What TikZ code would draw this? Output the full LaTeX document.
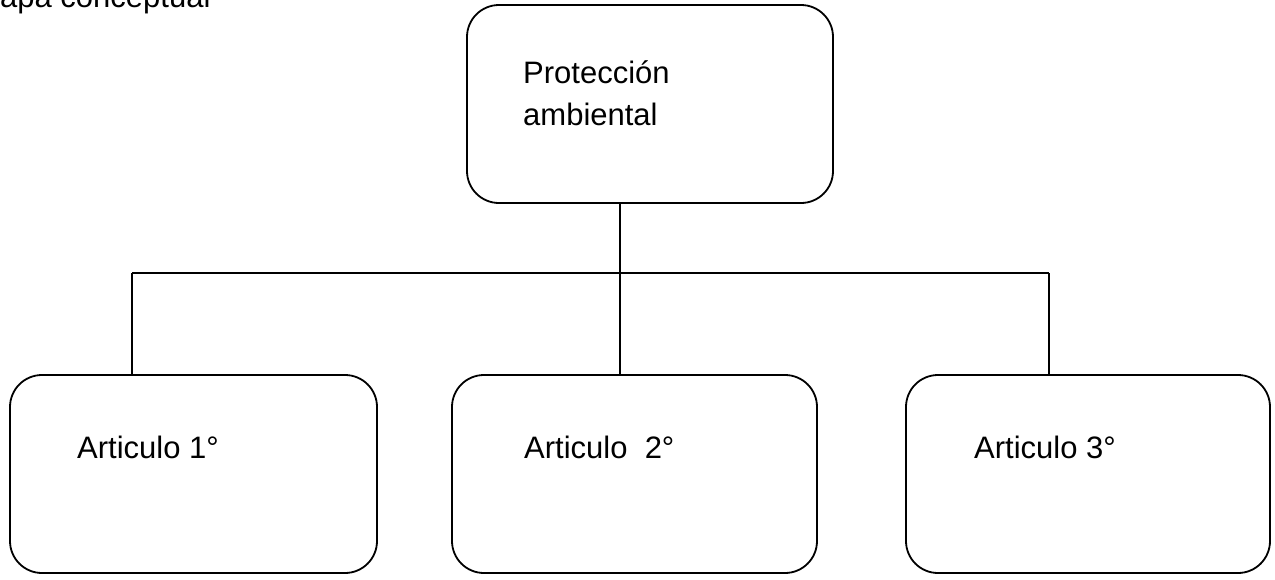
\documentclass[tikz,border=0pt]{standalone}
\usepackage{fontspec}
\setmainfont{Liberation Sans}
\begin{document}
\begin{tikzpicture}[x=1pt,y=-1pt,
  box/.style={draw=black, line width=1.8pt, rounded corners=32pt, inner sep=0pt},
  lbl/.style={inner sep=0pt, font=\fontsize{31}{42}\selectfont, align=left},
  link/.style={draw=black, line width=1.6pt}]
\useasboundingbox (0,0) rectangle (1275,579);
\node[lbl, anchor=base west] (title) at (0,7) {apa conceptual};
\node[box, minimum width=366pt, minimum height=198pt] (top) at (650,104) {};
\node[box, minimum width=367pt, minimum height=198pt] (b1) at (193.5,474) {};
\node[box, minimum width=365pt, minimum height=198pt] (b2) at (634.5,474) {};
\node[box, minimum width=364pt, minimum height=198pt] (b3) at (1088,474) {};
\node[lbl, anchor=base west] (t0) at (523,125) {Protección\\ambiental};
\node[lbl, anchor=base west] (t1) at (77,458) {Articulo 1°};
\node[lbl, anchor=base west] (t2) at (524,458) {Articulo\ \ 2°};
\node[lbl, anchor=base west] (t3) at (974,458) {Articulo 3°};
\coordinate (hub) at (620,273);
\coordinate (L) at (132,273);
\coordinate (R) at (1049,273);
\draw[link] (top.south -| hub) -- (hub);
\draw[link] (L) -- (R);
\draw[link] (L) -- (L |- b1.north);
\draw[link] (hub) -- (hub |- b2.north);
\draw[link] (R) -- (R |- b3.north);
\end{tikzpicture}
\end{document}
